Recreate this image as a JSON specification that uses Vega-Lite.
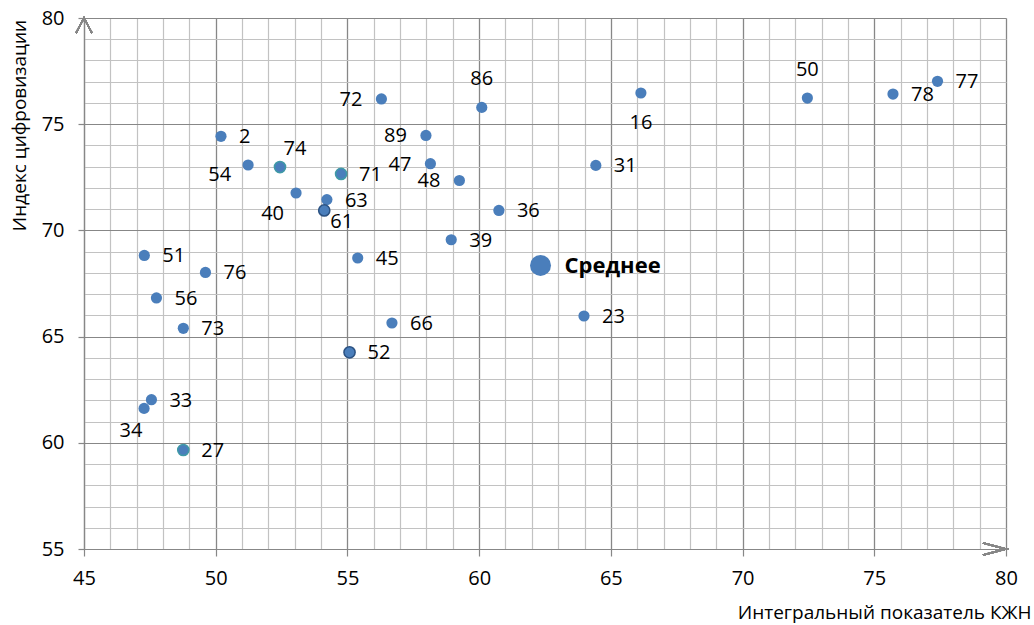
{
  "$schema": "https://vega.github.io/schema/vega-lite/v6.json",
  "width": 922,
  "height": 531,
  "autosize": {"type": "none"},
  "padding": {"left": 84, "top": 18, "right": 28, "bottom": 76},
  "background": "white",
  "config": {
    "view": {"stroke": null},
    "font": "Open Sans",
    "axis": {"labelFont": "Open Sans", "titleFont": "Open Sans", "labelColor": "#000000", "titleColor": "#000000"}
  },
  "data": {
    "values": [
      {"x": 50.20, "y": 74.43, "label": "2"},
      {"x": 51.23, "y": 73.08, "label": "54"},
      {"x": 52.44, "y": 72.98, "label": "74"},
      {"x": 53.05, "y": 71.76, "label": "40"},
      {"x": 54.22, "y": 71.45, "label": "63"},
      {"x": 54.12, "y": 70.94, "label": "61"},
      {"x": 54.76, "y": 72.66, "label": "71"},
      {"x": 56.29, "y": 76.19, "label": "72"},
      {"x": 60.10, "y": 75.79, "label": "86"},
      {"x": 57.98, "y": 74.47, "label": "89"},
      {"x": 58.15, "y": 73.14, "label": "47"},
      {"x": 59.25, "y": 72.35, "label": "48"},
      {"x": 66.14, "y": 76.47, "label": "16"},
      {"x": 64.43, "y": 73.06, "label": "31"},
      {"x": 60.75, "y": 70.94, "label": "36"},
      {"x": 58.94, "y": 69.56, "label": "39"},
      {"x": 55.39, "y": 68.70, "label": "45"},
      {"x": 62.33, "y": 68.35, "label": "Среднее"},
      {"x": 72.46, "y": 76.23, "label": "50"},
      {"x": 75.71, "y": 76.42, "label": "78"},
      {"x": 77.40, "y": 77.02, "label": "77"},
      {"x": 47.29, "y": 68.82, "label": "51"},
      {"x": 49.61, "y": 68.02, "label": "76"},
      {"x": 47.75, "y": 66.82, "label": "56"},
      {"x": 48.77, "y": 65.39, "label": "73"},
      {"x": 47.56, "y": 62.03, "label": "33"},
      {"x": 47.28, "y": 61.62, "label": "34"},
      {"x": 48.77, "y": 59.66, "label": "27"},
      {"x": 55.08, "y": 64.26, "label": "52"},
      {"x": 56.69, "y": 65.64, "label": "66"},
      {"x": 63.98, "y": 65.97, "label": "23"}
    ]
  },
  "resolve": {"axis": {"x": "independent", "y": "independent"}},
  "layer": [
    {
      "mark": {"type": "point", "opacity": 0},
      "encoding": {
        "x": {"field": "x", "type": "quantitative", "scale": {"domain": [45, 80], "nice": false, "zero": false},
          "axis": {"orient": "bottom", "values": [45,46,47,48,49,50,51,52,53,54,55,56,57,58,59,60,61,62,63,64,65,66,67,68,69,70,71,72,73,74,75,76,77,78,79,80], "grid": true, "gridColor": "#c2c2c2", "gridWidth": 1.2, "gridOpacity": 1, "labels": false, "ticks": false, "domain": false, "title": null}},
        "y": {"field": "y", "type": "quantitative", "scale": {"domain": [55, 80], "nice": false, "zero": false},
          "axis": {"orient": "left", "values": [55,56,57,58,59,60,61,62,63,64,65,66,67,68,69,70,71,72,73,74,75,76,77,78,79,80], "grid": true, "gridColor": "#c2c2c2", "gridWidth": 1.2, "gridOpacity": 1, "labels": false, "ticks": false, "domain": false, "title": null}}
      }
    },
    {
      "transform": [{"filter": "datum.label !== 'Среднее'"}],
      "mark": {"type": "circle", "size": 125, "color": "#4a7ebb", "opacity": 1},
      "encoding": {
        "x": {"field": "x", "type": "quantitative",
          "axis": {"orient": "bottom", "values": [45, 50, 55, 60, 65, 70, 75, 80], "grid": true, "gridColor": "#878787", "gridWidth": 1.2, "gridOpacity": 1,
            "domain": true, "domainColor": "#878787", "domainWidth": 1.2, "ticks": true, "tickColor": "#878787", "tickSize": 7, "tickWidth": 1.2,
            "labelFontSize": 20, "labelPadding": 12, "labelFlush": false,
            "title": "Интегральный показатель КЖН", "titleFontSize": 19, "titleFontWeight": "normal", "titleAnchor": "end", "titleAlign": "right", "titleX": 947, "titleY": 63, "titleBaseline": "middle"}},
        "y": {"field": "y", "type": "quantitative",
          "axis": {"orient": "left", "values": [55, 60, 65, 70, 75, 80], "grid": true, "gridColor": "#878787", "gridWidth": 1.2, "gridOpacity": 1,
            "domain": true, "domainColor": "#878787", "domainWidth": 1.2, "ticks": true, "tickColor": "#878787", "tickSize": 6, "tickWidth": 1.2,
            "labelFontSize": 20, "labelPadding": 14, "labelFlush": false,
            "title": "Индекс цифровизации", "titleFontSize": 19, "titleFontWeight": "normal", "titleAngle": -90, "titleAlign": "center", "titleBaseline": "middle", "titleX": -65, "titleY": 107}}
      }
    },
    {
      "transform": [{"filter": {"field": "label", "oneOf": ["61", "52"]}}],
      "mark": {"type": "circle", "size": 125, "color": "#4a7ebb", "stroke": "#2c5282", "strokeWidth": 1.5, "opacity": 1},
      "encoding": {"x": {"field": "x", "type": "quantitative", "axis": null}, "y": {"field": "y", "type": "quantitative", "axis": null}}
    },
    {
      "transform": [{"filter": {"field": "label", "oneOf": ["74", "71", "27"]}}],
      "mark": {"type": "circle", "size": 125, "color": "#4a7ebb", "stroke": "#3f9aa6", "strokeWidth": 1.5, "opacity": 1},
      "encoding": {"x": {"field": "x", "type": "quantitative", "axis": null}, "y": {"field": "y", "type": "quantitative", "axis": null}}
    },
    {
      "transform": [{"filter": "datum.label === 'Среднее'"}],
      "mark": {"type": "circle", "size": 440, "color": "#4a7ebb", "opacity": 1},
      "encoding": {"x": {"field": "x", "type": "quantitative", "axis": null}, "y": {"field": "y", "type": "quantitative", "axis": null}}
    },
    {
      "transform": [{"filter": {"field": "label", "oneOf": ["2", "63", "71", "31", "36", "39", "45", "78", "77", "51", "76", "56", "73", "33", "27", "52", "66", "23"]}}],
      "mark": {"type": "text", "align": "left", "baseline": "middle", "dx": 18, "dy": 1, "fontSize": 20, "color": "#000000"},
      "encoding": {"x": {"field": "x", "type": "quantitative", "axis": null}, "y": {"field": "y", "type": "quantitative", "axis": null}, "text": {"field": "label"}}
    },
    {
      "transform": [{"filter": {"field": "label", "oneOf": ["72", "89", "47", "48"]}}],
      "mark": {"type": "text", "align": "right", "baseline": "middle", "dx": -19, "dy": 1, "fontSize": 20, "color": "#000000"},
      "encoding": {"x": {"field": "x", "type": "quantitative", "axis": null}, "y": {"field": "y", "type": "quantitative", "axis": null}, "text": {"field": "label"}}
    },
    {
      "transform": [{"filter": {"field": "label", "oneOf": ["86", "50"]}}],
      "mark": {"type": "text", "align": "center", "baseline": "middle", "dy": -28, "fontSize": 20, "color": "#000000"},
      "encoding": {"x": {"field": "x", "type": "quantitative", "axis": null}, "y": {"field": "y", "type": "quantitative", "axis": null}, "text": {"field": "label"}}
    },
    {
      "transform": [{"filter": {"field": "label", "oneOf": ["16"]}}],
      "mark": {"type": "text", "align": "center", "baseline": "middle", "dy": 30, "fontSize": 20, "color": "#000000"},
      "encoding": {"x": {"field": "x", "type": "quantitative", "axis": null}, "y": {"field": "y", "type": "quantitative", "axis": null}, "text": {"field": "label"}}
    },
    {
      "transform": [{"filter": {"field": "label", "oneOf": ["74"]}}],
      "mark": {"type": "text", "align": "center", "baseline": "middle", "dx": 15, "dy": -18, "fontSize": 20, "color": "#000000"},
      "encoding": {"x": {"field": "x", "type": "quantitative", "axis": null}, "y": {"field": "y", "type": "quantitative", "axis": null}, "text": {"field": "label"}}
    },
    {
      "transform": [{"filter": {"field": "label", "oneOf": ["54"]}}],
      "mark": {"type": "text", "align": "right", "baseline": "middle", "dx": -17, "dy": 10, "fontSize": 20, "color": "#000000"},
      "encoding": {"x": {"field": "x", "type": "quantitative", "axis": null}, "y": {"field": "y", "type": "quantitative", "axis": null}, "text": {"field": "label"}}
    },
    {
      "transform": [{"filter": {"field": "label", "oneOf": ["40"]}}],
      "mark": {"type": "text", "align": "right", "baseline": "middle", "dx": -12, "dy": 21, "fontSize": 20, "color": "#000000"},
      "encoding": {"x": {"field": "x", "type": "quantitative", "axis": null}, "y": {"field": "y", "type": "quantitative", "axis": null}, "text": {"field": "label"}}
    },
    {
      "transform": [{"filter": {"field": "label", "oneOf": ["61"]}}],
      "mark": {"type": "text", "align": "left", "baseline": "middle", "dx": 6, "dy": 12, "fontSize": 20, "color": "#000000"},
      "encoding": {"x": {"field": "x", "type": "quantitative", "axis": null}, "y": {"field": "y", "type": "quantitative", "axis": null}, "text": {"field": "label"}}
    },
    {
      "transform": [{"filter": {"field": "label", "oneOf": ["34"]}}],
      "mark": {"type": "text", "align": "center", "baseline": "middle", "dx": -13, "dy": 23, "fontSize": 20, "color": "#000000"},
      "encoding": {"x": {"field": "x", "type": "quantitative", "axis": null}, "y": {"field": "y", "type": "quantitative", "axis": null}, "text": {"field": "label"}}
    },
    {
      "transform": [{"filter": "datum.label === 'Среднее'"}],
      "mark": {"type": "text", "align": "left", "baseline": "middle", "dx": 24, "dy": 1, "fontSize": 22, "fontWeight": "bold", "color": "#000000"},
      "encoding": {"x": {"field": "x", "type": "quantitative", "axis": null}, "y": {"field": "y", "type": "quantitative", "axis": null}, "text": {"field": "label"}}
    },
    {
      "mark": {"type": "point", "shape": "M -1 -0.26 L 0 0 L -1 0.26", "size": 2116, "filled": false, "stroke": "#878787", "strokeWidth": 1.5, "opacity": 1},
      "encoding": {"x": {"datum": 80, "type": "quantitative", "axis": null}, "y": {"datum": 55, "type": "quantitative", "axis": null}}
    },
    {
      "mark": {"type": "point", "shape": "M -0.53 1 L 0 0 L 0.53 1", "size": 900, "filled": false, "stroke": "#878787", "strokeWidth": 1.5, "opacity": 1},
      "encoding": {"x": {"datum": 45, "type": "quantitative", "axis": null}, "y": {"datum": 80, "type": "quantitative", "axis": null}}
    }
  ]
}
